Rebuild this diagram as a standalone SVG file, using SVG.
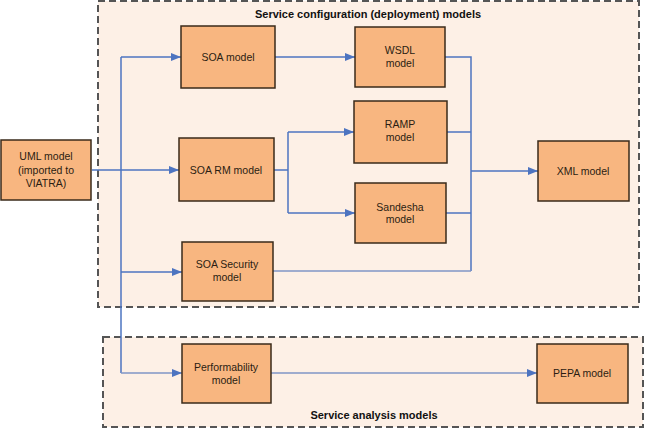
<svg xmlns="http://www.w3.org/2000/svg" width="645" height="429" viewBox="0 0 645 429">
<style>
.cont{fill:#fdf0e6;stroke:#555;stroke-width:2;stroke-dasharray:7,4}
.node rect{fill:#f8b680;stroke:#3a2a1a;stroke-width:1.5}
.node text{font-family:"Liberation Sans",Arial,sans-serif;font-size:10.5px;fill:#2b1d12;text-anchor:middle}
.title{font-family:"Liberation Sans",Arial,sans-serif;font-size:11px;font-weight:bold;fill:#111;text-anchor:middle}
.c{fill:none;stroke:#4d74c0;stroke-width:1.5}
.cl{fill:none;stroke:#7f96c6;stroke-width:1.5}
</style>
<defs>
<marker id="ah" viewBox="0 0 10 8" refX="10" refY="4" markerWidth="10" markerHeight="8" markerUnits="userSpaceOnUse" orient="auto">
<path d="M0,0 L10,4 L0,8 z" fill="#4d74c0"/>
</marker>
</defs>
<g id="containers">
<rect class="cont" x="98" y="1" width="541" height="306"/>
<text class="title" x="368" y="18">Service configuration (deployment) models</text>
<rect class="cont" x="103" y="337" width="540" height="90"/>
<text class="title" x="374" y="419">Service analysis models</text>
</g>
<g id="connectors">
<path class="c" d="M92,170 H179" marker-end="url(#ah)"/>
<path class="c" d="M121,57 V373"/>
<path class="c" d="M121,57 H181" marker-end="url(#ah)"/>
<path class="c" d="M121,272 H182" marker-end="url(#ah)"/>
<path class="cl" d="M121,373 H182" marker-end="url(#ah)"/>
<path class="c" d="M275,57 H355" marker-end="url(#ah)"/>
<path class="c" d="M274,170 H288"/>
<path class="c" d="M288,132 V213"/>
<path class="c" d="M288,132 H354" marker-end="url(#ah)"/>
<path class="c" d="M288,213 H355" marker-end="url(#ah)"/>
<path class="c" d="M445,57 H471 V271"/>
<path class="c" d="M447,132 H471"/>
<path class="c" d="M446,213 H471"/>
<path class="cl" d="M273,271 H471"/>
<path class="c" d="M471,171 H538" marker-end="url(#ah)"/>
<path class="cl" d="M271,373 H537" marker-end="url(#ah)"/>
</g>
<g id="uml" class="node"><rect x="1" y="140" width="90" height="60"/><text x="46" y="160">UML model</text><text x="46" y="174">(imported to</text><text x="46" y="187">VIATRA)</text></g>
<g id="soa" class="node"><rect x="181" y="26" width="94" height="62"/><text x="228" y="61">SOA model</text></g>
<g id="wsdl" class="node"><rect x="355" y="27" width="90" height="60"/><text x="400" y="54">WSDL</text><text x="400" y="67">model</text></g>
<g id="ramp" class="node"><rect x="354" y="101" width="93" height="62"/><text x="400" y="128">RAMP</text><text x="400" y="141">model</text></g>
<g id="soarm" class="node"><rect x="179" y="138" width="95" height="63"/><text x="226" y="174">SOA RM model</text></g>
<g id="sandesha" class="node"><rect x="355" y="183" width="91" height="60"/><text x="400" y="211">Sandesha</text><text x="400" y="223">model</text></g>
<g id="soasec" class="node"><rect x="182" y="242" width="91" height="59"/><text x="227" y="268">SOA Security</text><text x="227" y="281">model</text></g>
<g id="xml" class="node"><rect x="538" y="141" width="91" height="60"/><text x="583" y="175">XML model</text></g>
<g id="perf" class="node"><rect x="182" y="344" width="89" height="59"/><text x="226" y="371">Performability</text><text x="226" y="384">model</text></g>
<g id="pepa" class="node"><rect x="537" y="344" width="91" height="59"/><text x="582" y="377">PEPA model</text></g>
</svg>
